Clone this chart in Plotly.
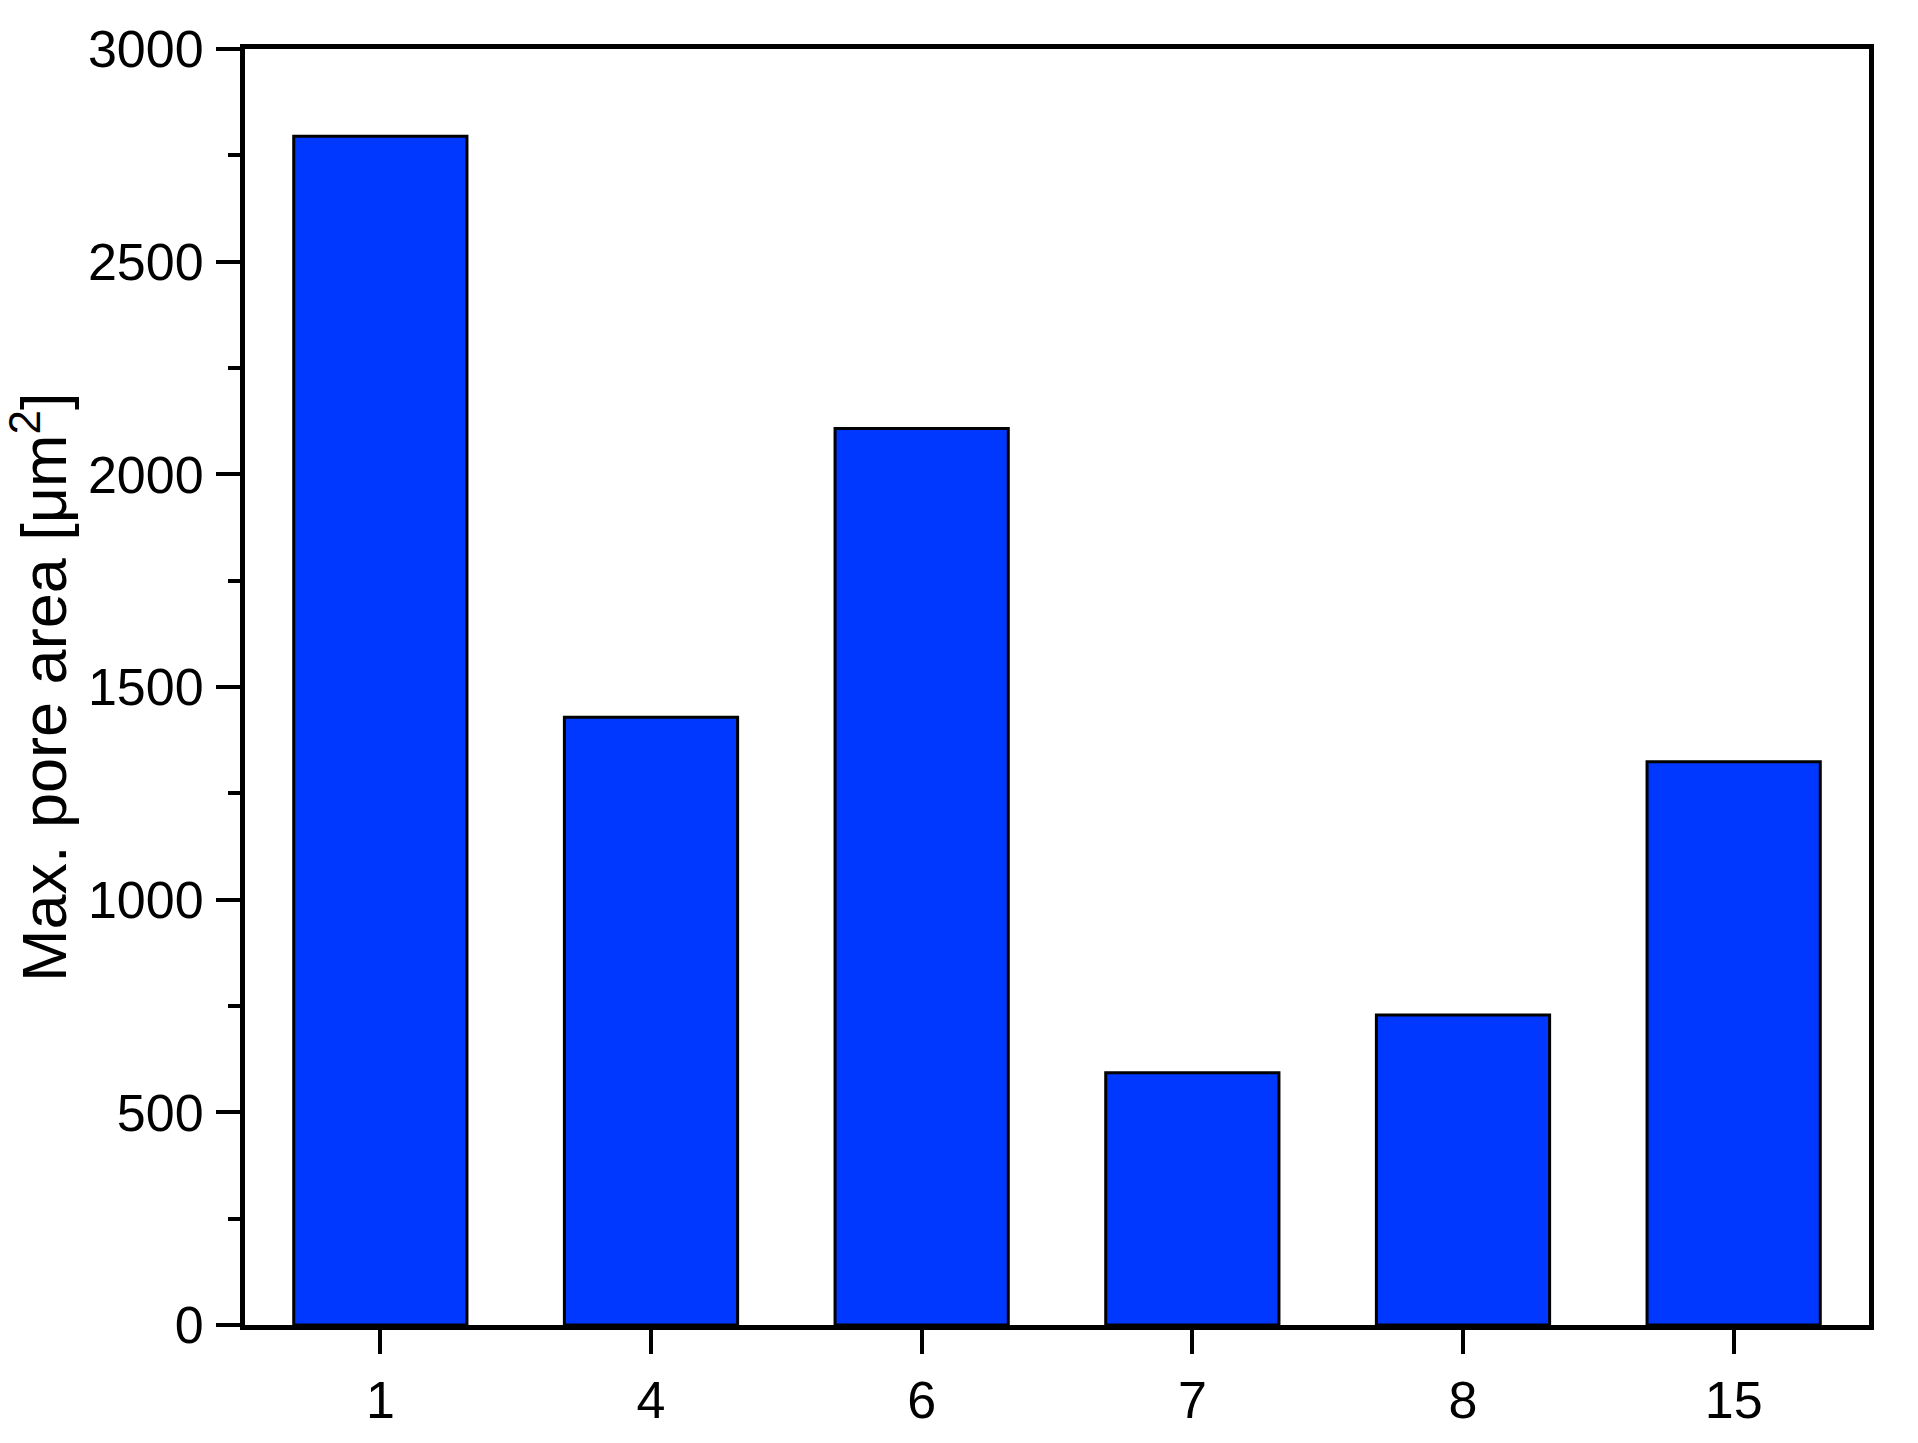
import plotly.graph_objects as go

# Data
samples = ["1", "4", "6", "7", "8", "15"]
max_pore_area = [2795, 1429, 2108, 593, 729, 1324]

FONT = "Arial, Liberation Sans, sans-serif"

fig = go.Figure()

fig.add_bar(
    x=samples,
    y=max_pore_area,
    width=0.64,
    marker=dict(color="#0038FF", line=dict(color="black", width=3)),
)

fig.update_layout(
    width=1918,
    height=1443,
    margin=dict(l=237, r=57, t=36, b=126),
    plot_bgcolor="white",
    paper_bgcolor="white",
    showlegend=False,
    font=dict(family=FONT, size=52, color="black"),
)

# x axis
fig.update_xaxes(
    type="category",
    range=[-0.5, 5.5],
    showline=True,
    linecolor="black",
    linewidth=5,
    mirror=True,
    ticks="outside",
    ticklen=24,
    tickwidth=4,
    tickcolor="black",
    ticklabelstandoff=2,
    showgrid=False,
    tickfont=dict(family=FONT, size=52),
)

# y axis
fig.update_yaxes(
    range=[0, 3000],
    tickvals=[0, 500, 1000, 1500, 2000, 2500, 3000],
    showline=True,
    linecolor="black",
    linewidth=5,
    mirror=True,
    ticks="outside",
    ticklen=24,
    tickwidth=4,
    tickcolor="black",
    ticklabelstandoff=2,
    minor=dict(ticks="outside", ticklen=12, tickwidth=4, tickcolor="black", dtick=250),
    showgrid=False,
    zeroline=False,
    tickfont=dict(family=FONT, size=52),
)

# y axis title placed by hand
fig.add_annotation(
    text="Max. pore area [μm<sup>2</sup>]",
    xref="paper",
    yref="paper",
    x=0,
    y=0.5,
    xanchor="center",
    yanchor="middle",
    xshift=-206,
    textangle=-90,
    showarrow=False,
    font=dict(family=FONT, size=63, color="black"),
)

fig.write_html("out.html")
